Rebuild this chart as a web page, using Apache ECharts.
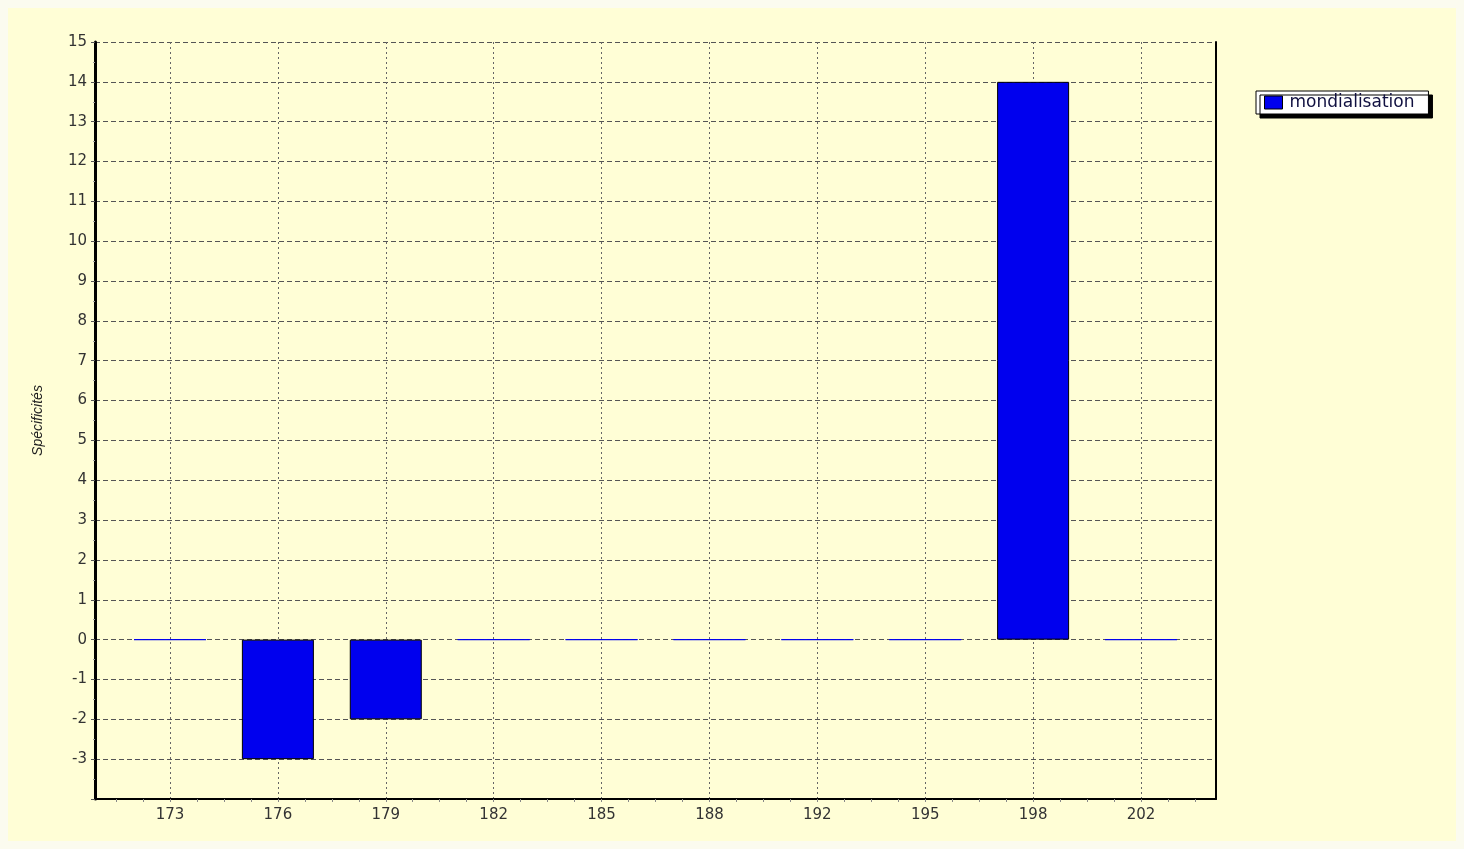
<!DOCTYPE html>
<html><head><meta charset="utf-8">
<script src="https://cdn.jsdelivr.net/npm/echarts@6/dist/echarts.min.js"></script>
<style>html,body{margin:0;padding:0;background:#fff}#c{width:1464px;height:849px}</style>
</head><body><div id="c"></div>
<script>
const categories = ['173','176','179','182','185','188','192','195','198','202'];
const values = [0,-3,-2,0,0,0,0,0,14,0];
const seriesName = 'mondialisation';
const yMin = -4, yMax = 15;

const chart = echarts.init(document.getElementById('c'));
const labelFont = {fontFamily:'DejaVu Sans, Verdana, sans-serif', fontSize:15, color:'#333'};
chart.setOption({
  backgroundColor:'#fbfbef',
  animation:false,
  graphic:[{type:'rect', shape:{x:8,y:8,width:1448,height:833}, style:{fill:'#fffed6'}, z:-10, silent:true}],
  grid:[
    {left:95, right:248, top:42, bottom:50, show:false},
    {left:170, right:323, top:42, bottom:50, show:false},
    {left:116, right:269, top:42, bottom:50, show:false}
  ],
  legend:{
    data:[seriesName], left:1256, top:91, orient:'vertical', icon:'rect',
    backgroundColor:'#ffffff', borderColor:'#000', borderWidth:1, borderRadius:0,
    shadowColor:'#000', shadowOffsetX:4, shadowOffsetY:4, shadowBlur:0,
    padding:[3,14,3,8], itemWidth:18, itemHeight:13, itemGap:0,
    textStyle:{fontFamily:'DejaVu Sans, Verdana, sans-serif', fontSize:17, color:'#101040', padding:[0,0,0,2]},
    itemStyle:{borderWidth:1, borderColor:'#000'}
  },
  xAxis:[
    {type:'value', gridIndex:0, min:0, max:1, position:'bottom',
     axisLine:{show:true, onZero:false, lineStyle:{color:'#000', width:2}}, axisTick:{show:false},
     axisLabel:{show:false}, splitLine:{show:false}},
    {type:'category', gridIndex:1, data:categories, position:'bottom', boundaryGap:false,
     axisLine:{show:false, onZero:false}, axisTick:{show:false},
     axisLabel:Object.assign({margin:9}, labelFont),
     splitLine:{show:true, interval:0, lineStyle:{color:'#666', type:[2,3], width:1}}},
    {type:'value', gridIndex:2, min:0, max:40, interval:1, position:'bottom',
     axisLine:{show:false, onZero:false}, axisTick:{show:true, length:3, lineStyle:{color:'#888'}},
     axisLabel:{show:false}, splitLine:{show:false}}
  ],
  yAxis:[
    {type:'value', gridIndex:0, min:yMin, max:yMax, interval:1, position:'left',
     name:'Spécificités', nameLocation:'middle', nameGap:50, nameRotate:90,
     nameTextStyle:{fontFamily:'Liberation Sans Narrow, Liberation Sans, Arial, sans-serif', fontStyle:'italic', fontSize:14, color:'#222'},
     axisLine:{show:true, onZero:false, lineStyle:{color:'#000', width:3}},
     axisTick:{show:true, length:4, lineStyle:{color:'#555'}},
     minorTick:{show:true, splitNumber:2, length:2, lineStyle:{color:'#999'}},
     axisLabel:Object.assign({margin:8, formatter:v => v === yMin ? '' : String(v)}, labelFont),
     splitLine:{show:true, lineStyle:{color:'#555', type:[5,3], width:1}}},
    {type:'value', gridIndex:0, min:yMin, max:yMax, interval:1, position:'right',
     axisLine:{show:true, onZero:false, lineStyle:{color:'#000', width:2}}, axisTick:{show:false},
     axisLabel:{show:false}, splitLine:{show:false}},
    {type:'value', gridIndex:1, min:yMin, max:yMax, interval:1, show:false, splitLine:{show:false}},
    {type:'value', gridIndex:2, min:yMin, max:yMax, interval:1, show:false, splitLine:{show:false}}
  ],
  series:[{
    name:seriesName, type:'bar', xAxisIndex:1, yAxisIndex:2, clip:false,
    barWidth:72,
    itemStyle:{color:'#0000ee', borderColor:'#000', borderWidth:1},
    data:values.map(v => v === 0 ? {value:v, itemStyle:{borderColor:'#0000ee'}} : v)
  }]
});
</script></body></html>
